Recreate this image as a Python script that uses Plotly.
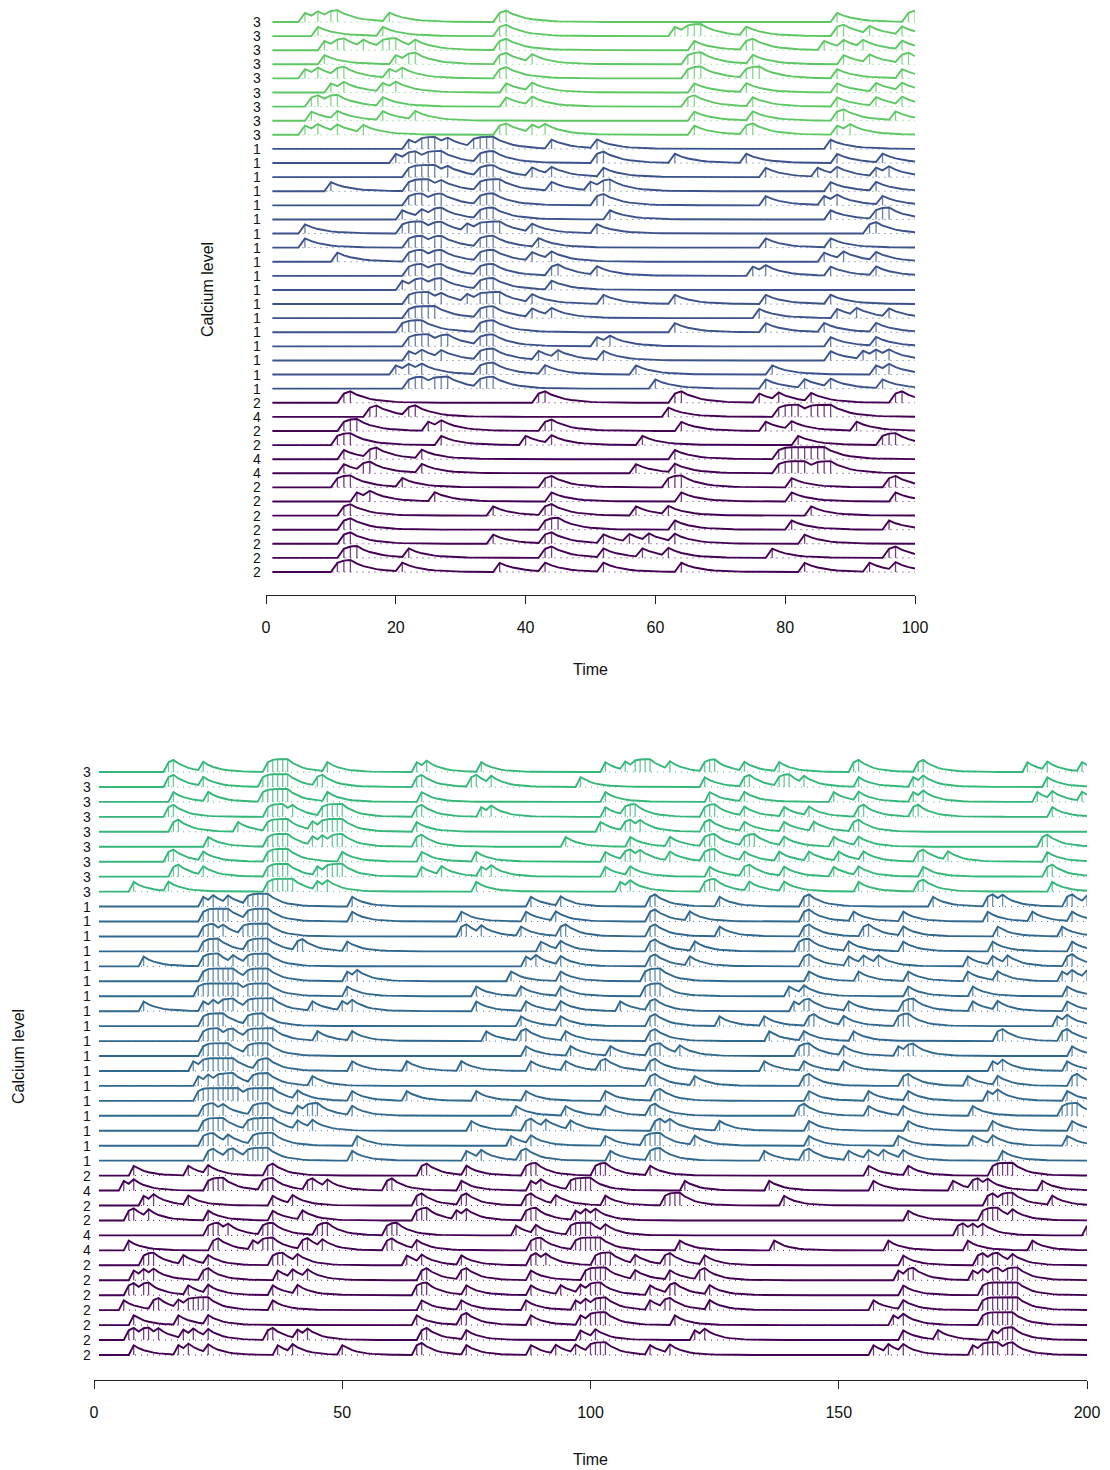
import plotly.graph_objects as go

# ---------------- data: spike times ----------------
# Top panel (time 1..100), rows listed from top to bottom
top_n = 100
top_labels = ["3"] * 9 + ["1"] * 18 + ["2", "4", "2", "2", "4", "4", "2", "2", "2", "2", "2", "2", "2"]
top_green = [
    [6, 8, 10, 11, 19, 36, 37, 88, 99, 100],
    [8, 18, 36, 37, 63, 65, 66, 67, 74, 88, 89, 93, 98],
    [9, 11, 12, 15, 18, 19, 20, 23, 36, 37, 66, 74, 75, 86, 89, 92, 98],
    [9, 20, 22, 23, 36, 37, 41, 65, 66, 67, 75, 89, 93, 98, 99],
    [6, 8, 11, 12, 19, 21, 36, 37, 65, 66, 67, 74, 75, 76, 88, 98],
    [10, 12, 18, 20, 37, 41, 66, 74, 88, 94, 98],
    [7, 8, 10, 11, 18, 37, 41, 65, 66, 75, 88, 94, 98],
    [7, 11, 18, 23, 66, 75, 88, 89, 97],
    [6, 8, 11, 15, 36, 37, 41, 43, 66, 74, 75, 88, 90],
]
top_blue = [
    [22, 24, 25, 26, 28, 32, 33, 34, 35, 44, 51, 87],
    [20, 22, 23, 25, 26, 27, 33, 34, 35, 51, 52, 63, 74, 88, 95],
    [22, 23, 24, 25, 26, 28, 33, 34, 35, 41, 44, 52, 77, 85, 88, 94, 96],
    [10, 22, 23, 24, 25, 27, 33, 34, 35, 36, 44, 50, 52, 53, 87, 94],
    [22, 23, 24, 26, 27, 33, 34, 35, 51, 52, 77, 86, 88, 95],
    [21, 24, 26, 27, 33, 34, 35, 53, 87, 94, 95, 96],
    [6, 21, 22, 23, 24, 26, 27, 31, 33, 34, 35, 36, 41, 51, 93, 94],
    [6, 22, 23, 24, 26, 27, 33, 34, 35, 42, 77, 87],
    [11, 22, 23, 24, 26, 27, 33, 34, 35, 41, 44, 86, 89, 94],
    [22, 23, 24, 26, 27, 33, 34, 35, 44, 45, 51, 75, 77, 87, 94],
    [21, 23, 24, 26, 27, 33, 34, 35, 44],
    [22, 23, 24, 25, 27, 31, 33, 34, 35, 36, 41, 52, 63, 77, 87],
    [22, 23, 24, 25, 26, 33, 34, 35, 41, 44, 76, 88, 91, 96],
    [21, 22, 23, 24, 33, 34, 35, 63, 77, 86, 94],
    [22, 23, 24, 25, 27, 28, 33, 34, 35, 51, 53, 87, 94],
    [22, 24, 27, 33, 34, 35, 42, 45, 52, 87, 92, 94, 96],
    [20, 22, 24, 33, 34, 35, 43, 57, 78, 94, 96],
    [22, 23, 24, 26, 27, 28, 33, 34, 35, 60, 77, 83, 87, 95],
]
top_purple = [
    [12, 13, 42, 43, 63, 64, 76, 79, 84, 97, 98],
    [16, 17, 22, 23, 62, 79, 80, 81, 82, 84, 85, 86, 87],
    [12, 13, 14, 25, 27, 43, 44, 64, 77, 81, 91],
    [11, 12, 13, 27, 40, 44, 58, 82, 95, 96, 97],
    [12, 16, 17, 24, 63, 79, 80, 81, 82, 83, 84, 85, 86],
    [12, 15, 16, 24, 57, 63, 79, 80, 81, 82, 83, 85, 86, 87],
    [11, 12, 13, 21, 43, 44, 62, 63, 64, 81, 96, 97],
    [14, 16, 26, 44, 64, 81, 97],
    [12, 13, 35, 43, 44, 57, 62, 84],
    [12, 13, 43, 44, 45, 63, 81, 96],
    [12, 13, 35, 43, 44, 52, 56, 59, 63, 83],
    [12, 13, 14, 22, 43, 44, 52, 58, 62, 78, 96, 97],
    [11, 12, 13, 21, 36, 43, 52, 64, 83, 93, 97],
]
top_ticks = [0, 20, 40, 60, 80, 100]

# Bottom panel (time 1..200), rows listed from top to bottom
bot_n = 200
bot_labels = ["3"] * 9 + ["1"] * 18 + ["2", "4", "2", "2", "4", "4", "2", "2", "2", "2", "2", "2", "2"]
bot_green = [
    [15, 16, 22, 35, 36, 37, 38, 39, 47, 65, 67, 78, 103, 107, 109, 110, 111, 112, 116, 123, 124, 125, 131, 138, 153, 154, 166, 167, 188, 192, 199],
    [15, 16, 22, 34, 35, 36, 37, 38, 39, 45, 46, 65, 66, 76, 77, 80, 98, 123, 131, 132, 138, 139, 140, 143, 154, 165, 167, 192],
    [16, 23, 34, 35, 36, 37, 38, 39, 47, 66, 103, 124, 131, 149, 154, 165, 167, 190, 193, 199],
    [15, 16, 35, 36, 37, 38, 40, 46, 47, 48, 49, 50, 65, 66, 78, 80, 103, 107, 108, 109, 123, 124, 125, 131, 139, 144, 154, 155, 165, 166, 193],
    [16, 17, 29, 35, 36, 37, 38, 39, 44, 46, 47, 48, 49, 50, 65, 102, 107, 108, 110, 123, 124, 131, 139, 145, 153, 154],
    [23, 35, 36, 37, 38, 39, 44, 46, 48, 49, 50, 65, 66, 95, 108, 116, 123, 124, 125, 131, 132, 133, 139, 149, 154, 191, 192],
    [15, 16, 22, 35, 36, 37, 38, 39, 50, 66, 77, 103, 107, 108, 110, 116, 123, 124, 125, 131, 138, 144, 150, 155, 166, 167, 172, 192],
    [16, 17, 22, 35, 36, 37, 38, 39, 45, 47, 48, 49, 50, 66, 70, 78, 80, 103, 108, 124, 131, 132, 139, 149, 154, 167, 192, 193],
    [8, 15, 35, 36, 37, 38, 39, 40, 45, 47, 77, 106, 108, 123, 124, 125, 132, 139, 154, 166, 167, 193],
]
bot_blue = [
    [22, 24, 27, 31, 32, 33, 34, 35, 52, 88, 94, 112, 113, 126, 143, 144, 169, 180, 181, 183, 196, 197, 200],
    [22, 23, 24, 25, 26, 27, 31, 32, 33, 34, 35, 52, 74, 87, 93, 112, 113, 120, 143, 144, 153, 163, 180, 189, 197],
    [22, 23, 24, 26, 30, 31, 32, 33, 34, 35, 74, 75, 78, 86, 94, 95, 112, 113, 126, 143, 144, 155, 156, 163, 182, 195],
    [22, 23, 24, 25, 31, 32, 33, 34, 35, 41, 42, 51, 90, 94, 112, 113, 121, 142, 143, 144, 152, 163, 181, 197],
    [10, 22, 23, 24, 25, 28, 31, 32, 33, 34, 35, 87, 89, 94, 112, 113, 120, 143, 144, 152, 155, 158, 176, 181, 184, 196, 197],
    [22, 23, 24, 25, 26, 27, 28, 31, 32, 33, 34, 35, 51, 53, 84, 94, 111, 112, 113, 114, 144, 154, 164, 176, 182, 195, 197, 200],
    [21, 22, 23, 24, 25, 26, 27, 28, 29, 31, 32, 33, 34, 35, 51, 77, 86, 94, 111, 112, 113, 114, 140, 143, 164, 177, 196],
    [10, 22, 24, 26, 27, 28, 31, 32, 33, 34, 35, 36, 44, 50, 52, 77, 87, 94, 106, 112, 113, 141, 143, 144, 152, 163, 164, 165, 177, 182, 196],
    [22, 23, 24, 25, 26, 31, 32, 33, 34, 86, 94, 112, 113, 126, 135, 144, 145, 151, 162, 163, 164, 194, 196],
    [22, 23, 24, 25, 27, 28, 31, 32, 33, 34, 35, 36, 45, 52, 79, 86, 87, 95, 112, 113, 136, 143, 153, 182, 183, 195, 196],
    [22, 23, 24, 25, 26, 27, 31, 32, 33, 34, 35, 87, 96, 104, 112, 113, 114, 118, 142, 143, 144, 151, 162, 164, 165, 197],
    [20, 22, 23, 24, 25, 26, 27, 28, 33, 34, 35, 52, 63, 74, 88, 95, 102, 103, 112, 113, 135, 143, 151, 181, 183, 196],
    [21, 23, 25, 26, 27, 28, 32, 33, 34, 35, 44, 112, 113, 121, 143, 144, 163, 164, 176, 182, 197, 198],
    [21, 22, 23, 24, 25, 26, 27, 28, 29, 31, 32, 33, 34, 35, 36, 41, 52, 63, 77, 87, 103, 113, 114, 144, 156, 164, 180, 182, 196],
    [22, 23, 24, 26, 32, 33, 34, 35, 41, 43, 44, 45, 52, 85, 95, 103, 112, 113, 142, 143, 156, 163, 177, 195, 196, 197, 198],
    [22, 23, 24, 25, 26, 31, 32, 33, 34, 35, 36, 41, 44, 76, 87, 88, 91, 96, 113, 114, 116, 126, 144, 164, 181, 197],
    [22, 23, 24, 27, 32, 33, 34, 35, 36, 53, 84, 88, 103, 111, 112, 113, 114, 121, 144, 162, 177, 181, 196],
    [23, 24, 27, 28, 31, 32, 33, 34, 35, 52, 75, 78, 86, 87, 104, 112, 113, 114, 135, 143, 144, 152, 156, 159, 163, 183],
]
bot_purple = [
    [8, 19, 23, 35, 36, 66, 67, 75, 87, 88, 89, 101, 102, 103, 112, 156, 164, 181, 182, 183, 184, 185],
    [6, 8, 23, 24, 25, 26, 34, 35, 36, 43, 44, 47, 59, 60, 74, 88, 90, 96, 97, 98, 99, 100, 119, 136, 157, 173, 177, 178, 180, 191],
    [10, 12, 19, 36, 40, 65, 66, 74, 75, 87, 88, 93, 103, 115, 116, 117, 118, 139, 180, 181, 183, 184, 185, 193],
    [7, 8, 11, 23, 36, 42, 65, 66, 67, 73, 75, 87, 88, 89, 97, 99, 101, 164, 179, 180, 181, 182, 185],
    [23, 24, 25, 27, 34, 35, 36, 45, 46, 47, 59, 60, 61, 85, 89, 96, 97, 98, 99, 100, 103, 174, 175, 177, 179, 200],
    [7, 24, 25, 32, 34, 35, 36, 42, 43, 46, 59, 60, 65, 88, 89, 90, 97, 98, 99, 100, 101, 102, 118, 137, 160, 176, 189],
    [10, 11, 12, 18, 23, 36, 37, 38, 41, 63, 66, 74, 88, 89, 91, 101, 102, 103, 104, 109, 115, 116, 123, 163, 178, 179, 181, 182, 185],
    [8, 10, 12, 22, 23, 37, 40, 43, 66, 67, 74, 75, 88, 99, 100, 101, 102, 103, 109, 116, 122, 123, 162, 164, 165, 177, 179, 181, 182, 184, 185, 186],
    [7, 8, 10, 11, 19, 23, 36, 41, 65, 66, 67, 75, 88, 94, 98, 100, 101, 102, 112, 116, 117, 124, 163, 179, 180, 181, 182, 183, 184, 185, 186],
    [6, 12, 13, 17, 19, 20, 21, 22, 23, 36, 66, 74, 87, 97, 99, 101, 102, 103, 112, 115, 116, 124, 157, 163, 179, 180, 181, 182, 183, 184, 185, 186],
    [8, 17, 23, 65, 74, 75, 88, 98, 100, 101, 102, 103, 117, 161, 163, 179, 180, 181, 182, 183, 184, 185],
    [7, 8, 10, 11, 13, 18, 20, 23, 35, 36, 41, 43, 66, 67, 75, 98, 101, 121, 123, 163, 170, 181, 183, 184, 185],
    [8, 17, 19, 23, 37, 40, 50, 65, 66, 75, 88, 93, 97, 100, 101, 102, 103, 112, 116, 157, 160, 163, 177, 179, 180, 181, 182, 184, 185],
]
bot_ticks = [0, 50, 100, 150, 200]

# ---------------- styling ----------------
top_colors = {"green": "#5DC863", "blue": "#3B528B", "purple": "#440154"}
bot_colors = {"green": "#35B779", "blue": "#31688E", "purple": "#440154"}
FONT = "Liberation Sans, Arial, Helvetica, sans-serif"
DECAY = 0.7
AMP = 0.65


def calcium(spikes, n):
    counts = {}
    for s in spikes:
        counts[s] = counts.get(s, 0) + 1
    out, prev = [], 0.0
    for t in range(1, n + 1):
        v = DECAY * prev
        for _ in range(counts.get(t, 0)):
            v = v + AMP * (1.0 - v)
        out.append(v)
        prev = v
    return out


def rgba(hexc, a):
    h = hexc.lstrip("#")
    return "rgba(%d,%d,%d,%.2f)" % (int(h[0:2], 16), int(h[2:4], 16), int(h[4:6], 16), a)


fig = go.Figure()


def add_group(rows, first_index, total_rows, n, color, xa, ya):
    lx, ly, sx, sy, dx, dy = [], [], [], [], [], []
    for i, spikes in enumerate(rows):
        base = total_rows - 1 - (first_index + i)
        c = calcium(spikes, n)
        lx += list(range(1, n + 1)) + [None]
        ly += [base + v for v in c] + [None]
        for s in sorted(set(spikes)):
            sx += [s, s, None]
            sy += [base, base + c[s - 1], None]
        dx += [1, n, None]
        dy += [base, base, None]
    fig.add_trace(go.Scatter(x=dx, y=dy, mode="lines", xaxis=xa, yaxis=ya, hoverinfo="skip",
                             line=dict(color=rgba(color, 0.9), width=1, dash="1px,5px"), showlegend=False))
    fig.add_trace(go.Scatter(x=sx, y=sy, mode="lines", xaxis=xa, yaxis=ya, hoverinfo="skip",
                             line=dict(color=rgba(color, 0.75), width=1.3), showlegend=False))
    fig.add_trace(go.Scatter(x=lx, y=ly, mode="lines", xaxis=xa, yaxis=ya, hoverinfo="skip",
                             line=dict(color=color, width=1.9), showlegend=False))


NR = 40
add_group(top_green, 0, NR, top_n, top_colors["green"], "x", "y")
add_group(top_blue, 9, NR, top_n, top_colors["blue"], "x", "y")
add_group(top_purple, 27, NR, top_n, top_colors["purple"], "x", "y")
add_group(bot_green, 0, NR, bot_n, bot_colors["green"], "x2", "y2")
add_group(bot_blue, 9, NR, bot_n, bot_colors["blue"], "x2", "y2")
add_group(bot_purple, 27, NR, bot_n, bot_colors["purple"], "x2", "y2")

W, H = 1110, 1470

# pixel geometry
top_left, top_right, top_row_top, top_row_bot, top_axis, top_dom_top = 266, 915, 22, 572, 595, 4
bot_left, bot_right, bot_row_top, bot_row_bot, bot_axis, bot_dom_top = 94, 1087, 772, 1355, 1380, 752

tu = (top_row_bot - top_row_top) / (NR - 1)
bu = (bot_row_bot - bot_row_top) / (NR - 1)
top_yr = [-(top_axis - top_row_bot) / tu, NR - 1 + (top_row_top - top_dom_top) / tu]
bot_yr = [-(bot_axis - bot_row_bot) / bu, NR - 1 + (bot_row_top - bot_dom_top) / bu]

axis_common = dict(showgrid=False, zeroline=False, showline=True, linecolor="#222", linewidth=1,
                   ticks="outside", ticklen=8, tickwidth=1, tickcolor="#222", automargin=False,
                   tickfont=dict(family=FONT, size=16, color="#111"), ticklabelstandoff=10)

fig.update_layout(
    template=None, autosize=False,
    width=W, height=H, margin=dict(l=0, r=0, t=0, b=0, pad=0, autoexpand=False),
    paper_bgcolor="white", plot_bgcolor="white",
    xaxis=dict(domain=[top_left / W, top_right / W], range=[0, top_n], tickvals=top_ticks,
               anchor="y", **axis_common),
    yaxis=dict(domain=[1 - top_axis / H, 1 - top_dom_top / H], range=top_yr, visible=False),
    xaxis2=dict(domain=[bot_left / W, bot_right / W], range=[0, bot_n], tickvals=bot_ticks,
                anchor="y2", **axis_common),
    yaxis2=dict(domain=[1 - bot_axis / H, 1 - bot_dom_top / H], range=bot_yr, visible=False),
)

ann = []
for i, lab in enumerate(top_labels):
    ann.append(dict(text=lab, x=(top_left - 3) / W, xref="paper", xanchor="right",
                    y=NR - 1 - i, yref="y", yanchor="middle", showarrow=False,
                    font=dict(family=FONT, size=14, color="#111")))
for i, lab in enumerate(bot_labels):
    ann.append(dict(text=lab, x=(bot_left - 1) / W, xref="paper", xanchor="right",
                    y=NR - 1 - i, yref="y2", yanchor="middle", showarrow=False,
                    font=dict(family=FONT, size=14, color="#111")))
centre = dict(xref="paper", yref="paper", xanchor="center", yanchor="middle", showarrow=False,
              font=dict(family=FONT, size=16, color="#111"))
ann.append(dict(text="Time", x=(top_left + top_right) / 2 / W, y=1 - 669 / H, **centre))
ann.append(dict(text="Time", x=(bot_left + bot_right) / 2 / W, y=1 - 1459 / H, **centre))
ann.append(dict(text="Calcium level", x=207 / W, y=1 - 290 / H, textangle=-90, **centre))
ann.append(dict(text="Calcium level", x=18 / W, y=1 - 1057 / H, textangle=-90, **centre))
fig.update_layout(annotations=ann)

fig.write_html("out.html")
